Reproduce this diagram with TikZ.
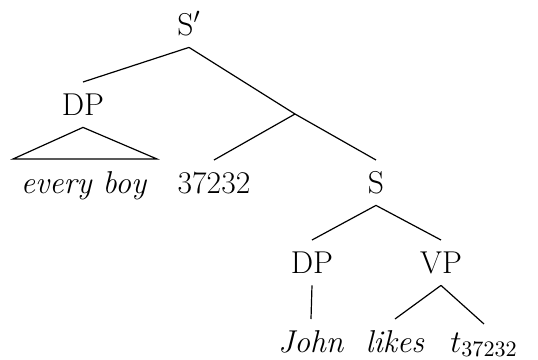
\RequirePackage{fix-cm}
\documentclass[tikz,border=0pt]{standalone}
\usepackage{fontspec}
\begin{document}
\begin{tikzpicture}[x=0.5pt,y=-0.5pt,
  lab/.style={anchor=base, inner xsep=1pt, inner ysep=6pt, text height=10.3pt, text depth=0pt, font=\fontsize{15.8}{19}\selectfont},
  branch/.style={line width=0.6pt}]
\useasboundingbox (0,0) rectangle (538,360);
\node[lab] (sp) at (189,35) {S$'$};
\node[lab] (dpa) at (83,115) {DP};
\coordinate (j) at (295,114);
\coordinate (tl) at (13,159);
\coordinate (tr) at (157,159);
\node[lab] (eb) at (84,193) {\textit{every boy}};
\node[lab] (num) at (214,193) {37232};
\node[lab] (s) at (376,193) {S};
\node[lab] (dpb) at (312,273) {DP};
\node[lab] (vp) at (441,273) {VP};
\node[lab] (john) at (311,352) {\textit{John}};
\node[lab] (likes) at (395,352) {\textit{likes}};
\node[lab, text height=7.8pt] (t) at (484,352) {$t_{37232}$};
\draw[branch] (sp.south) -- (dpa.north);
\draw[branch] (sp.south) -- (j) -- (s.north);
\draw[branch] (j) -- (num.north);
\draw[branch] (dpa.south) -- (tl) -- (tr) -- cycle;
\draw[branch] (s.south) -- (dpb.north);
\draw[branch] (s.south) -- (vp.north);
\draw[branch] (dpb.south) -- (john.north);
\draw[branch] (vp.south) -- (likes.north);
\draw[branch] (vp.south) -- (t.north);
\end{tikzpicture}
\end{document}
